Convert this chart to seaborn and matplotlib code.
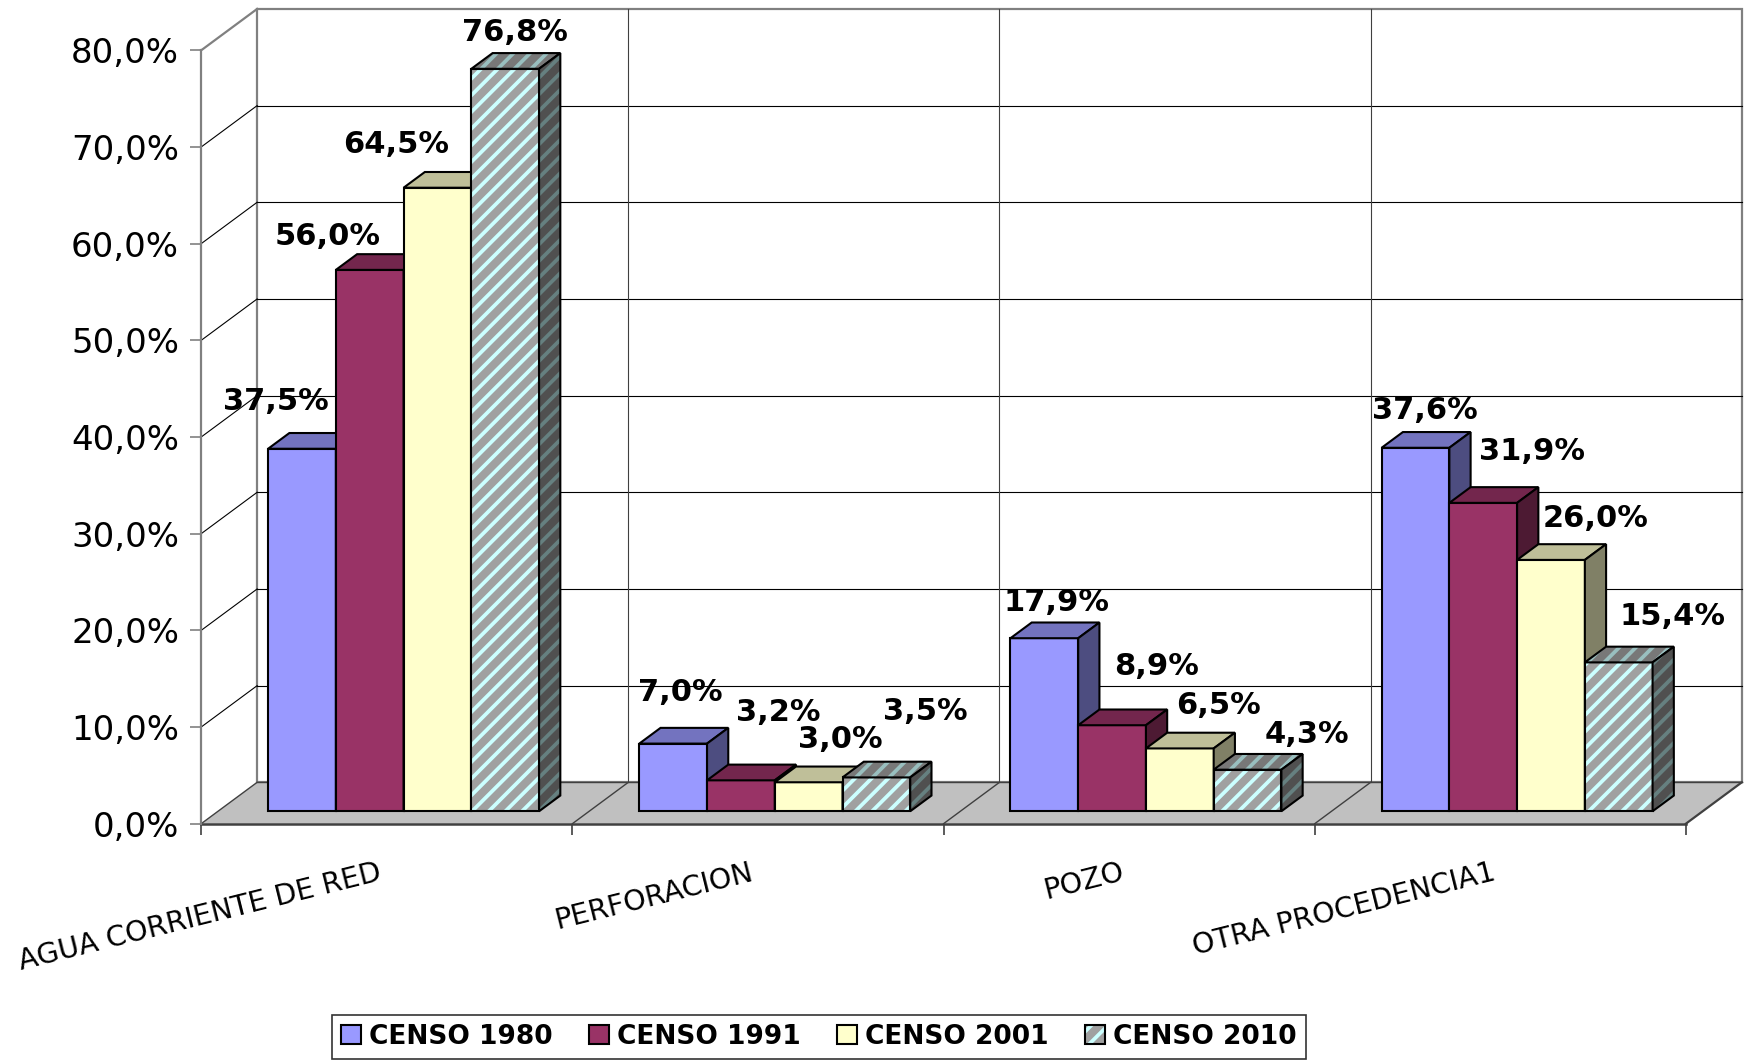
import numpy as np
import pandas as pd
import matplotlib
matplotlib.use("Agg")
import matplotlib.pyplot as plt
import seaborn as sns
from matplotlib.patches import Polygon, Rectangle, Patch

# ---------------- data ----------------
categories = ["AGUA CORRIENTE DE RED", "PERFORACION", "POZO", "OTRA PROCEDENCIA1"]
series = ["CENSO 1980", "CENSO 1991", "CENSO 2001", "CENSO 2010"]
censo_1980 = [37.5, 7.0, 17.9, 37.6]
censo_1991 = [56.0, 3.2, 8.9, 31.9]
censo_2001 = [64.5, 3.0, 6.5, 26.0]
censo_2010 = [76.8, 3.5, 4.3, 15.4]
y_ticks = [0, 10, 20, 30, 40, 50, 60, 70, 80]

# ---------------- style / layout ----------------
colors = ["#9999FF", "#993366", "#FFFFCC", "#A0A0A0"]
HATCH_STRIPE = "#CCFFFF"
DX = 50 / 332          # depth offset in category units
DY = 37 / 8.65         # depth offset in percent units
F0, F1 = 0.30, 0.68    # bar depth start / end (fraction of floor depth)
X_LIM = (-1.0422, 3.6807)
Y_LIM = (-24.86, 85.2)
# label nudges in points (dx, dy) per category, per series
LABEL_NUDGE = [
    [(-18.5, 34), (-30, 24), (-30, 31), (7, 26)],
    [(5, 37), (27, 49), (23, 31), (35, 47.5)],
    [(9, 26), (32, 42), (28, 31), (43, 25)],
    [(7, 27), (35, 37), (32, 30), (39, 33)],
]

plt.rcParams["hatch.linewidth"] = 2.7
plt.rcParams["font.family"] = ["DejaVu Sans"]

rows = []
for s, vals in zip(series, [censo_1980, censo_1991, censo_2001, censo_2010]):
    for c, v in zip(categories, vals):
        rows.append({"categoria": c, "censo": s, "valor": v})
df = pd.DataFrame(rows)

fig = plt.figure(figsize=(17.53, 10.64), dpi=100)
ax = fig.add_axes([0, 0, 1, 1])

sns.barplot(data=df, x="categoria", y="valor", hue="censo", order=categories,
            hue_order=series, palette=colors, saturation=1, width=0.73, gap=0,
            edgecolor="black", linewidth=1.5, legend=False, errorbar=None, ax=ax)


def shade(c, k):
    r, g, b, _ = matplotlib.colors.to_rgba(c)
    return (r * k, g * k, b * k)


def face(verts, fc, z, hatch=None, hc=None):
    if hatch:
        ax.add_patch(Polygon(verts, closed=True, facecolor=fc, edgecolor=hc,
                             hatch=hatch, linewidth=0, zorder=z))
        ax.add_patch(Polygon(verts, closed=True, fill=False, edgecolor="black",
                             linewidth=1.5, joinstyle="miter", zorder=z + 0.0005))
    else:
        ax.add_patch(Polygon(verts, closed=True, facecolor=fc, edgecolor="black",
                             linewidth=1.5, joinstyle="miter", zorder=z))


# ---------------- walls & floor ----------------
ax.add_patch(Polygon([(-0.5 + DX, DY), (3.5 + DX, DY), (3.5 + DX, 80 + DY), (-0.5 + DX, 80 + DY)],
                     closed=True, facecolor="white", edgecolor="#808080", linewidth=1.6, zorder=0.4))
ax.add_patch(Polygon([(-0.5, 0), (3.5, 0), (3.5 + DX, DY), (-0.5 + DX, DY)],
                     closed=True, facecolor="#C0C0C0", edgecolor="none", zorder=0.5))
for t in y_ticks[1:-1]:
    ax.plot([-0.5 + DX, 3.5 + DX], [t + DY, t + DY], color="black", lw=0.8, zorder=0.6)
    ax.plot([-0.5, -0.5 + DX], [t, t + DY], color="black", lw=0.8, zorder=0.6)
ax.plot([-0.5 + DX, 3.5 + DX], [DY, DY], color="#404040", lw=1.0, zorder=0.6)
ax.plot([-0.5, -0.5 + DX], [80, 80 + DY], color="#808080", lw=1.6, zorder=0.6)
for k in range(1, len(categories)):
    ax.plot([k - 0.5 + DX, k - 0.5 + DX], [DY, 80 + DY], color="#404040", lw=0.8, zorder=0.6)
for k in range(len(categories) + 1):
    ax.plot([k - 0.5, k - 0.5 + DX], [0, DY], color="#404040", lw=1.0 if k < 4 else 1.6, zorder=0.6)

# ---------------- 3D bars ----------------
for h, cont in enumerate(ax.containers):
    z = 3 + h * 0.1
    base = colors[h]
    for i, bar in enumerate(cont):
        x0 = bar.get_x() + F0 * DX
        w = bar.get_width()
        hgt = bar.get_height()
        y0 = F0 * DY
        bar.set_x(x0)
        bar.set_y(y0)
        bar.set_zorder(z)
        bdx = (F1 - F0) * DX
        bdy = (F1 - F0) * DY
        x1, y1 = x0 + w, y0 + hgt
        top = [(x0, y1), (x1, y1), (x1 + bdx, y1 + bdy), (x0 + bdx, y1 + bdy)]
        side = [(x1, y0), (x1 + bdx, y0 + bdy), (x1 + bdx, y1 + bdy), (x1, y1)]
        if h == 3:
            bar.set_edgecolor(HATCH_STRIPE)
            bar.set_hatch("//")
            bar.set_linewidth(0)
            ax.add_patch(Rectangle((x0, y0), w, hgt, fill=False, edgecolor="black",
                                   linewidth=1.5, zorder=z + 0.0005))
            face(top, shade(base, 0.75), z + 0.01, "//", shade(HATCH_STRIPE, 0.75))
            face(side, shade(base, 0.5), z + 0.02, "//", shade(HATCH_STRIPE, 0.5))
        else:
            face(top, shade(base, 0.75), z + 0.01)
            face(side, shade(base, 0.5), z + 0.02)
        txt = f"{hgt:.1f}%".replace(".", ",")
        ax.annotate(txt, xy=(x0 + w / 2, y1), xytext=LABEL_NUDGE[i][h],
                    textcoords="offset points", ha="center", va="center",
                    fontsize=22, fontweight="bold", color="black", zorder=10)

# ---------------- axes ----------------
ax.set_xlim(X_LIM)
ax.set_ylim(Y_LIM)
ax.set_xlabel("")
ax.set_ylabel("")
for s in ["top", "right"]:
    ax.spines[s].set_visible(False)
ax.spines["left"].set_position(("data", -0.5))
ax.spines["left"].set_bounds(0, 80)
ax.spines["left"].set_color("#808080")
ax.spines["left"].set_linewidth(1.6)
ax.spines["bottom"].set_position(("data", 0))
ax.spines["bottom"].set_bounds(-0.5, 3.5)
ax.spines["bottom"].set_color("#404040")
ax.spines["bottom"].set_linewidth(1.8)
ax.spines["bottom"].set_zorder(0.7)

ax.set_yticks(y_ticks, labels=[f"{t:.1f}%".replace(".", ",") for t in y_ticks])
ax.tick_params(axis="y", direction="out", length=8, width=1.2, color="#808080",
               labelsize=24.5, pad=8)
ax.set_xticks([k - 0.5 for k in range(len(categories) + 1)], labels=[""] * (len(categories) + 1))
ax.tick_params(axis="x", which="major", direction="out", length=8, width=1.2, color="#404040")
ax.set_xticks([i - 0.025 for i in range(len(categories))], labels=categories, minor=True)
ax.tick_params(axis="x", which="minor", length=0, labelsize=20.5, pad=25)
for lbl in ax.get_xticklabels(minor=True):
    lbl.set_rotation(14)
    lbl.set_ha("right")
    lbl.set_va("top")
    lbl.set_rotation_mode("anchor")

# ---------------- legend ----------------
handles = [Patch(facecolor=c, edgecolor="black", linewidth=1.5) for c in colors[:3]]
handles.append((Patch(facecolor=colors[3], edgecolor=HATCH_STRIPE, hatch="//", linewidth=0),
                Patch(fill=False, edgecolor="black", linewidth=1.5)))
leg = fig.legend(handles, series, loc="upper left", bbox_to_anchor=(0.1894, 0.0465, 0.5556, 0),
                 mode="expand", ncol=4, prop={"weight": "bold", "size": 19}, frameon=True,
                 fancybox=False, edgecolor="black", handlelength=0.75, handleheight=0.75,
                 handletextpad=0.3, borderaxespad=0, borderpad=0.35, columnspacing=1.0)
leg.get_frame().set_linewidth(1.2)

fig.savefig("out.png", dpi=100)
